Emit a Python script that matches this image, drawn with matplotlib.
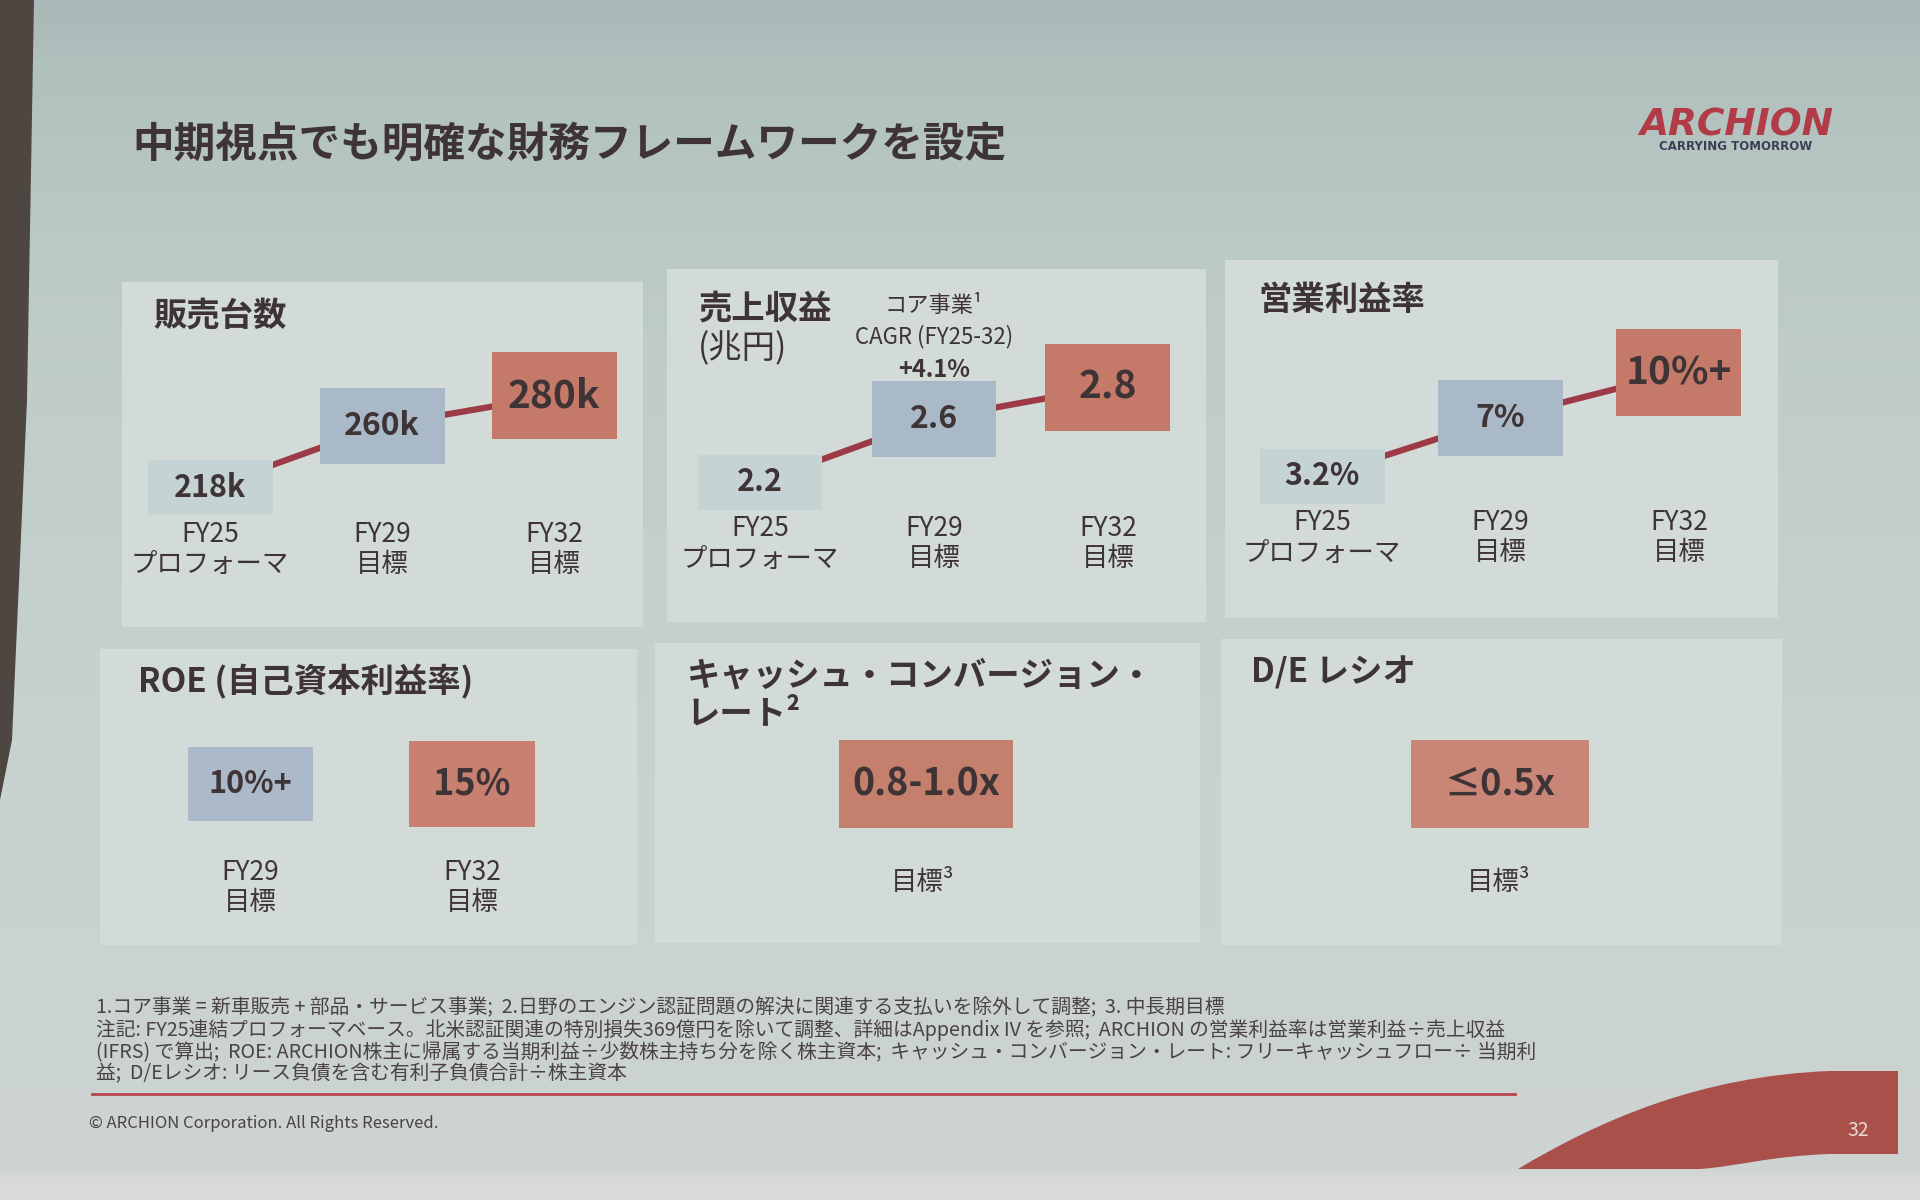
import numpy as np
import matplotlib.pyplot as plt
from matplotlib.patches import Rectangle, PathPatch, Polygon
from matplotlib.path import Path
from matplotlib.transforms import blended_transform_factory

plt.rcParams['font.family'] = ['Noto Sans CJK JP', 'DejaVu Sans']

W, H = 1920, 1200

# ---- データ ----
title = "中期視点でも明確な財務フレームワークを設定"

period_labels = ["FY25\nプロフォーマ", "FY29\n目標", "FY32\n目標"]

units_title = "販売台数"
units_vals = [218, 260, 280]
units_text = ["218k", "260k", "280k"]

rev_title = "売上収益"
rev_unit = "(兆円)"
rev_vals = [2.2, 2.6, 2.8]
rev_text = ["2.2", "2.6", "2.8"]
rev_note = ["コア事業¹", "CAGR (FY25-32)"]
rev_cagr = "+4.1%"

opm_title = "営業利益率"
opm_vals = [3.2, 7, 10]
opm_text = ["3.2%", "7%", "10%+"]

roe_title = "ROE (自己資本利益率)"
roe_labels = ["FY29\n目標", "FY32\n目標"]
roe_text = ["10%+", "15%"]

ccr_title = ["キャッシュ・コンバージョン・", "レート²"]
ccr_text = ["0.8-1.0x"]

de_title = "D/E レシオ"
de_text = ["≤0.5x"]

target_label = "目標³"

footnotes = [
    "1.コア事業 = 新車販売 + 部品・サービス事業;  2.日野のエンジン認証問題の解決に関連する支払いを除外して調整;  3. 中長期目標",
    "注記: FY25連結プロフォーマベース。北米認証関連の特別損失369億円を除いて調整、詳細はAppendix IV を参照;  ARCHION の営業利益率は営業利益÷売上収益",
    "(IFRS) で算出;  ROE: ARCHION株主に帰属する当期利益÷少数株主持ち分を除く株主資本;  キャッシュ・コンバージョン・レート: フリーキャッシュフロー÷ 当期利",
    "益;  D/Eレシオ: リース負債を含む有利子負債合計÷株主資本",
]
copyright_text = "© ARCHION Corporation. All Rights Reserved."
page_no = "32"

# ---- スタイル ----
C_TXT = '#3e3436'
C_PANEL = '#d2dbd8'
C_LINE = '#9e3a46'
C_RED = '#a9504b'
BOX_C = ['#c5d3d5', '#a9b9c8', '#c57a69']
BOX_H = [55, 76, 87]
BOX_W = 125
VAL_FS = [22, 23, 28]

fig = plt.figure(figsize=(19.2, 12), dpi=100)
main = fig.add_axes([0, 0, 1, 1])
main.set_xlim(0, W)
main.set_ylim(H, 0)
main.axis('off')

# 背景のグラデーション
ys = np.linspace(0, H, 300)
stops = [0, 60, 250, 700, 1170, 1180, 1200]
cols = np.array([[169, 184, 182], [176, 192, 189], [188, 202, 198], [199, 210, 206],
                 [205, 212, 209], [216, 218, 215], [216, 218, 215]]) / 255
grad = np.stack([np.interp(ys, stops, cols[:, k]) for k in range(3)], axis=1)
main.imshow(grad[:, None, :], extent=(0, W, H, 0), aspect='auto', zorder=0)
main.add_patch(Polygon([(0, 0), (34, 0), (27, 400), (12, 740), (0, 800)],
                       closed=True, fc='#4d4641', ec='none', zorder=1))


def px_axes(x0, y0, x1, y1):
    a = fig.add_axes([x0 / W, 1 - y1 / H, (x1 - x0) / W, (y1 - y0) / H])
    a.axis('off')
    a.patch.set_alpha(0)
    return a


# パネル背景
panels = [(122, 282, 643, 627), (667, 269, 1206, 622), (1225, 260, 1778, 618),
          (100, 649, 637, 945), (655, 643, 1200, 943), (1221, 639, 1782, 945)]
for x0, y0, x1, y1 in panels:
    main.add_patch(Rectangle((x0, y0), x1 - x0, y1 - y0, fc=C_PANEL, ec='none', zorder=2))

# タイトル
main.text(132, 145, title, fontsize=30, weight='bold', color=C_TXT, va='center', zorder=5)
main.text(1736, 126, "ARCHION", fontsize=27, weight='bold', style='italic',
          family='DejaVu Sans', color='#b13c48', ha='center', va='center', zorder=5)
main.text(1736, 147, "CARRYING TOMORROW", fontsize=8.5, weight='bold',
          family='DejaVu Sans', color='#3b3f55', ha='center', va='center', zorder=5)


def two_line(ax, x, y, label, trans, fs=19, gap=30):
    for k, line in enumerate(label.split("\n")):
        ax.text(x, y + k * gap, line, transform=trans, fontsize=fs, color=C_TXT,
                ha='center', va='center', clip_on=False, zorder=5)


def step_chart(x0, x1, ylim, vals, texts, label_y):
    y0, y1 = 300, 520
    ax = px_axes(x0, y0, x1, y1)
    ax.set_xlim(-0.5, len(vals) - 0.5)
    ax.set_ylim(*ylim)
    xs = np.arange(len(vals))
    ax.plot(xs, vals, color=C_LINE, lw=4.5, solid_capstyle='butt', zorder=1)
    upx = (x1 - x0) / len(vals)
    upy = (y1 - y0) / (ylim[1] - ylim[0])
    for i, (v, t) in enumerate(zip(vals, texts)):
        w = BOX_W / upx
        h = BOX_H[i] / upy
        ax.add_patch(Rectangle((i - w / 2, v - h / 2), w, h, fc=BOX_C[i], ec='none',
                               zorder=2, clip_on=False))
        ax.text(i, v, t, ha='center', va='center', fontsize=VAL_FS[i], weight='bold',
                color=C_TXT, zorder=3, clip_on=False)
    tr = blended_transform_factory(ax.transData, main.transData)
    for i, lab in enumerate(period_labels):
        two_line(ax, i, label_y, lab, tr)


# 販売台数
main.text(153, 317, units_title, fontsize=24, weight='bold', color=C_TXT, va='center', zorder=5)
step_chart(124, 640, (196, 345), units_vals, units_text, 534)

# 売上収益
main.text(698, 309, rev_title, fontsize=24, weight='bold', color=C_TXT, va='center', zorder=5)
main.text(698, 349, rev_unit, fontsize=24, color=C_TXT, va='center', zorder=5)
main.text(934, 306, rev_note[0], fontsize=16, color=C_TXT, ha='center', va='center', zorder=5)
main.text(934, 337, rev_note[1], fontsize=16, color=C_TXT, ha='center', va='center', zorder=5)
main.text(934, 370, rev_cagr, fontsize=17, weight='bold', color=C_TXT, ha='center',
          va='center', zorder=5)
step_chart(673, 1195, (1.96, 3.35), rev_vals, rev_text, 529)

# 営業利益率
main.text(1258, 300, opm_title, fontsize=24, weight='bold', color=C_TXT, va='center', zorder=5)
step_chart(1233, 1768, (0.3, 14.8), opm_vals, opm_text, 523)


def level_chart(x0, x1, texts, colors, widths, heights, sizes):
    y0, y1 = 740, 828
    ax = px_axes(x0, y0, x1, y1)
    ax.set_xlim(-0.5, len(texts) - 0.5)
    ax.set_ylim(-1, 1)
    upx = (x1 - x0) / len(texts)
    upy = (y1 - y0) / 2
    for i, t in enumerate(texts):
        w = widths[i] / upx
        h = heights[i] / upy
        ax.add_patch(Rectangle((i - w / 2, -h / 2), w, h, fc=colors[i], ec='none',
                               clip_on=False, zorder=2))
        ax.text(i, 0, t, ha='center', va='center', fontsize=sizes[i], weight='bold',
                color=C_TXT, clip_on=False, zorder=3)
    return ax


# ROE
main.text(138, 682, roe_title, fontsize=24, weight='bold', color=C_TXT, va='center', zorder=5)
ax_roe = level_chart(139, 583, roe_text, ['#abb9c8', '#c88170'], [125, 126], [74, 86], [22, 26])
tr = blended_transform_factory(ax_roe.transData, main.transData)
for i, lab in enumerate(roe_labels):
    two_line(ax_roe, i, 872, lab, tr)

# キャッシュ・コンバージョン・レート
main.text(687, 676, ccr_title[0], fontsize=24, weight='bold', color=C_TXT, va='center', zorder=5)
main.text(687, 714, ccr_title[1], fontsize=24, weight='bold', color=C_TXT, va='center', zorder=5)
level_chart(838, 1014, ccr_text, ['#c47f6d'], [174], [88], [27])
main.text(923, 882, target_label, fontsize=19, color=C_TXT, ha='center', va='center', zorder=5)

# D/E レシオ
main.text(1251, 673, de_title, fontsize=24, weight='bold', color=C_TXT, va='center', zorder=5)
level_chart(1410, 1590, de_text, ['#c98676'], [178], [88], [26])
main.text(1499, 882, target_label, fontsize=19, color=C_TXT, ha='center', va='center', zorder=5)

# 注記
for k, line in enumerate(footnotes):
    main.text(96, 1008 + k * 22, line, fontsize=14.2, color='#4a4244', va='center', zorder=5)
main.plot([92, 1515], [1094, 1094], color='#b5454f', lw=2, zorder=5)
main.text(89, 1124, copyright_text, fontsize=12, color='#4a4244', va='center', zorder=5)

# ページ番号のスウォッシュ
verts = [(1518, 1169), (1600, 1120), (1700, 1076), (1830, 1071),
         (1898, 1071), (1898, 1154), (1830, 1154),
         (1770, 1156), (1740, 1166), (1700, 1169),
         (1518, 1169), (1518, 1169)]
codes = [Path.MOVETO, Path.CURVE4, Path.CURVE4, Path.CURVE4,
         Path.LINETO, Path.LINETO, Path.LINETO,
         Path.CURVE4, Path.CURVE4, Path.CURVE4,
         Path.LINETO, Path.CLOSEPOLY]
main.add_patch(PathPatch(Path(verts, codes), fc=C_RED, ec='none', zorder=4))
main.text(1858, 1130, page_no, fontsize=14, color='#e8dcd6', ha='center', va='center', zorder=5)

fig.savefig("out.png", dpi=100)
